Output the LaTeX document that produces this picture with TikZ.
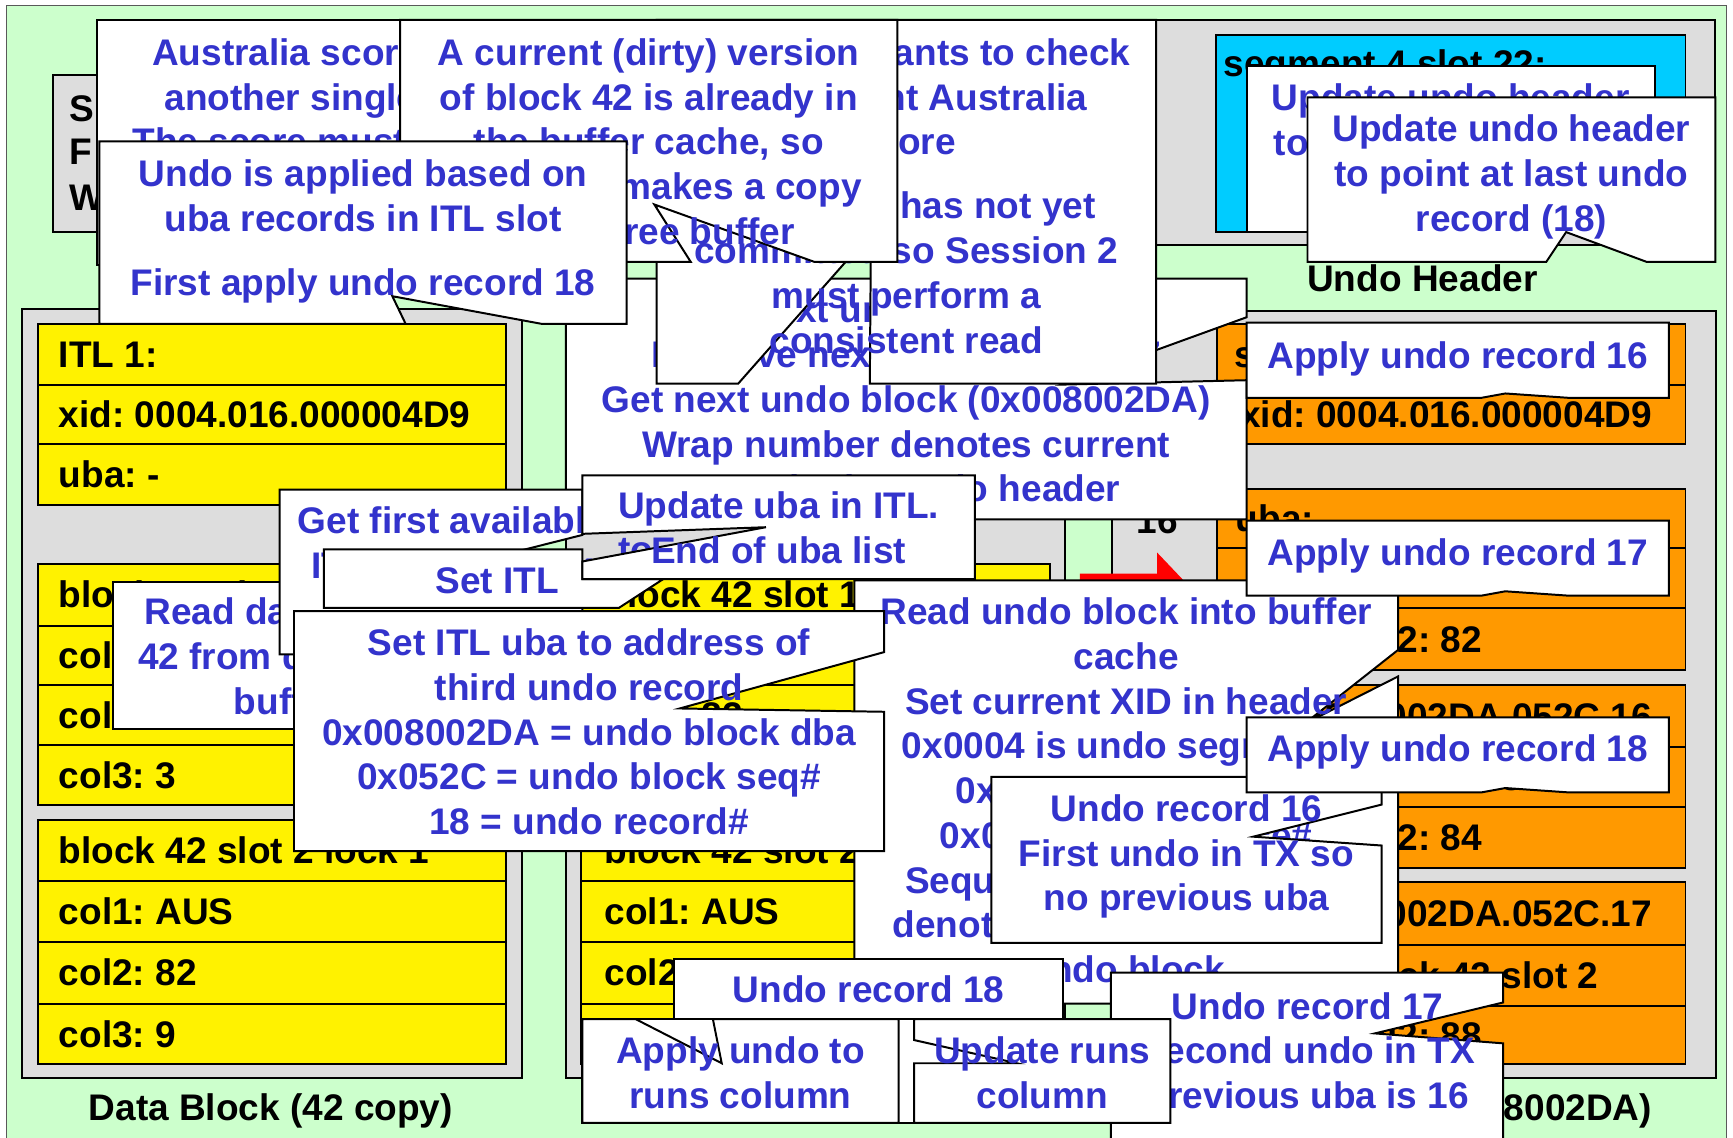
\documentclass[tikz,border=0pt]{standalone}
\usepackage{fontspec}
\setmainfont{Liberation Sans}
\definecolor{bggreen}{RGB}{204,255,204}
\definecolor{pgray}{RGB}{221,221,221}
\definecolor{ppblue}{RGB}{51,51,204}
\definecolor{porange}{RGB}{255,153,0}
\definecolor{pcyan}{RGB}{0,204,255}
\newcommand\bigbold{\fontsize{33.5}{40.5}\selectfont\bfseries\frenchspacing}
\tikzset{
  panel/.style={fill=pgray, draw=black, line width=1.8pt},
  yrow/.style={fill=yellow, draw=black, line width=1.8pt},
  orow/.style={fill=porange, draw=black, line width=1.8pt},
  callout/.style={fill=white, draw=black, line width=1.8pt, line join=miter},
  note/.style={font=\bigbold, text=ppblue, align=center, anchor=north, inner sep=0pt, execute at begin node=\strut},
  cell/.style={font=\bigbold, text=black, anchor=base west, inner sep=0pt},
  lbl/.style={font=\bigbold, text=black, anchor=base, inner sep=0pt},
}
% one table row: name, style, x1, y1, x2, y2, text x, text
\newcommand\rowcell[8]{%
  \draw[#2] (#3,#4) rectangle (#5,#6);
  \node[cell] (#1) at (#7,{(#4+#6)/2+12}) {#8};}

\begin{document}
\frenchspacing
\begin{tikzpicture}[x=1pt,y=-1pt]
\useasboundingbox (0,0) rectangle (1568,1029);
\clip (0,0) rectangle (1568,1029);
\fill[white] (0,0) rectangle (1568,1029);
\draw[fill=bggreen, draw=black!65, line width=1.3pt] (6,5) rectangle (1562,1045);

% ---------- undo header ----------
\draw[panel] (1040,18) rectangle (1552,222);
\draw[fill=pcyan, draw=black, line width=1.8pt] (1100,32) rectangle (1525,210);
\node[cell] (seghdr) at (1107,69) {segment 4 slot 22:};
\node[lbl] (uhlabel) at (1287,264) {Undo Header};

% ---------- data block copy ----------
\draw[panel] (20,280) rectangle (472,975);
\rowcell{litl}{yrow}{34}{293}{458}{348}{53}{ITL 1:}
\rowcell{lxid}{yrow}{34}{348}{458}{402}{53}{xid: 0004.016.000004D9}
\rowcell{luba}{yrow}{34}{402}{458}{457}{53}{uba: -}
\rowcell{lsa}{yrow}{34}{510}{458}{566}{53}{block 42 slot 1 lock 1}
\rowcell{lsa1}{yrow}{34}{566}{458}{620}{53}{col1: AUS}
\rowcell{lsa2}{yrow}{34}{620}{458}{674}{53}{col2: 82}
\rowcell{lsa3}{yrow}{34}{674}{458}{728}{53}{col3: 3}
\rowcell{lsb}{yrow}{34}{742}{458}{797}{53}{block 42 slot 2 lock 1}
\rowcell{lsb1}{yrow}{34}{797}{458}{852}{53}{col1: AUS}
\rowcell{lsb2}{yrow}{34}{852}{458}{908}{53}{col2: 82}
\rowcell{lsb3}{yrow}{34}{908}{458}{963}{53}{col3: 9}
\node[lbl] (dblabel) at (245,1014) {Data Block (42 copy)};

% ---------- current data block ----------
\draw[panel] (512,280) rectangle (964,975);
\rowcell{mitl}{yrow}{526}{293}{950}{348}{547}{ITL 1:}
\rowcell{mxid}{yrow}{526}{348}{950}{402}{547}{xid: 0004.016.000004D9}
\rowcell{muba}{yrow}{526}{402}{950}{457}{547}{uba: 0x008002DA.052C.18}
\rowcell{msa}{yrow}{526}{510}{950}{566}{547}{block 42 slot 1 lock 1}
\rowcell{msa1}{yrow}{526}{566}{950}{620}{547}{col1: AUS}
\rowcell{msa2}{yrow}{526}{620}{950}{674}{547}{col2: 82}
\rowcell{msa3}{yrow}{526}{674}{950}{728}{547}{col3: 3}
\rowcell{msb}{yrow}{526}{742}{950}{797}{547}{block 42 slot 2 lock 1}
\rowcell{msb1}{yrow}{526}{797}{950}{852}{547}{col1: AUS}
\rowcell{msb2}{yrow}{526}{852}{950}{908}{547}{col2: 89}
\rowcell{msb3}{yrow}{526}{908}{950}{963}{547}{col3: 9}

% ---------- undo block ----------
\draw[panel] (1006,281) rectangle (1553,975);
\rowcell{useq}{orow}{1101}{293}{1525}{348}{1117}{seq: 0x052C}
\rowcell{uxid}{orow}{1101}{348}{1525}{402}{1122}{xid: 0004.016.000004D9}
\rowcell{ua1}{orow}{1101}{442}{1525}{496}{1118}{uba:}
\rowcell{ua2}{orow}{1101}{496}{1525}{550}{1215}{block 42 slot 2}
\rowcell{ua3}{orow}{1101}{550}{1525}{606}{1216}{col2: 82}
\draw[orow] (1101,620) rectangle (1525,676);
\node[cell, anchor=base east] (ub1) at (1495,660) {uba: 0x008002DA.052C.16};
\rowcell{ub2}{orow}{1101}{676}{1525}{730}{1215}{block 42 slot 2}
\rowcell{ub3}{orow}{1101}{730}{1525}{785}{1216}{col2: 84}
\draw[orow] (1101,798) rectangle (1525,855);
\node[cell, anchor=base east] (uc1) at (1495,838) {uba: 0x008002DA.052C.17};
\rowcell{uc2}{orow}{1101}{855}{1525}{910}{1215}{block 42 slot 2}
\rowcell{uc3}{orow}{1101}{910}{1525}{963}{1216}{col2: 88}
\node[lbl] (rec16num) at (1047,483) {16};
\fill[red] (977,519) -- (1047,519) -- (1047,500) -- (1085,540) -- (1047,580) -- (1047,561) -- (977,561) -- cycle;
\node[lbl, anchor=base east] (ublabel) at (1495,1014) {Undo Block (0x008002DA)};

% ---------- session box ----------
\draw[panel] (48,68) rectangle (200,210);
\node[cell] (sesa) at (63,110) {S};
\node[cell] (sesb) at (63,149) {F};
\node[cell] (sesc) at (63,190) {W};

% ---------- callouts, back to front ----------
\draw[callout] (88,18) rectangle (448,240);
\node[note] (aus) at (268,34.65) {Australia scores\\another single.\\The score must be};

\draw[callout] (512,252) -- (1128,252) -- (1128,287) -- (960,348) -- (1128,344) -- (1128,470) -- (512,470) -- cycle;
\node[note] (nextundo) at (820,267.65) {Get next undo record (17)\\Retrieve next undo record 17\\Get next undo block (0x008002DA)\\Wrap number denotes current\\wrap in the undo header};

\draw[callout] (594,18) -- (1046,18) -- (1046,347) -- (787,347) -- (788,211) -- (668,347) -- (594,347) -- cycle;
\node[note] (session2) at (820,34.65) {Session 2 wants to check\\the current Australia\\score\\[17.5pt]Session 1 has not yet\\committed so Session 2\\must perform a\\consistent read};

\draw[callout] (362,18) -- (812,18) -- (812,237) -- (737,237) -- (592,185) -- (625,237) -- (362,237) -- cycle;
\node[note] (dirty) at (587,34.65) {A current (dirty) version\\of block 42 is already in\\the buffer cache, so\\Session 2 makes a copy\\into a free buffer};

\draw[callout] (90,128) -- (567,128) -- (567,293) -- (490,293) -- (355,268) -- (367,293) -- (90,293) -- cycle;
\node[note] (applied) at (328.5,144.65) {Undo is applied based on\\uba records in ITL slot\\[17.5pt]First apply undo record 18};

\draw[callout] (1128,60) rectangle (1497,210);
\node[note] (uhold) at (1312.5,75.65) {Update undo header\\to point at last undo\\record (17)};
\draw[callout] (1183,88) -- (1552,88) -- (1552,237) -- (1490,237) -- (1417,210) -- (1399,237) -- (1183,237) -- cycle;
\node[note] (uhnew) at (1367.5,103.65) {Update undo header\\to point at last undo\\record (18)};

\draw[callout] (102,527) rectangle (416,660);
\node[note] (readdata) at (259,540.65) {Read data block\\42 from disk into\\buffer};

\draw[callout] (253,443) -- (527,443) -- (527,484) -- (420,511) -- (527,540) -- (527,592) -- (253,592) -- cycle;
\node[note] (firstitl) at (409,458.65) {Get first available\\ITL slot in block};
\node[font=\bigbold, text=ppblue, anchor=base, inner sep=0pt] (ubato) at (575,509) {to};

\draw[callout] (293,497) -- (527,497) -- (527,524) -- (600,524) -- (560,550) -- (293,550) -- cycle;
\node[note] (setitl) at (450,508.65) {Set ITL};

\draw[callout] (527,430) -- (882,430) -- (882,524) -- (527,524) -- (527,508) -- (693,477) -- (527,483) -- cycle;
\node[note] (updateuba) at (704.5,444.65) {Update uba in ITL.\\End of uba list};

\draw[callout] (773,525) -- (1265,525) -- (1265,588) -- (1180,655) -- (1265,612) -- (1265,908) -- (773,908) -- cycle;
\node[note] (readundo) at (1019,540.65) {Read undo block into buffer\\cache\\Set current XID in header\\0x0004 is undo segment\#\\0x016 is undo slot\#\\0x04D9 is sequence\#\\Sequence number (wrap)\\denotes current version of\\undo block};

\draw[callout] (266,553) -- (800,553) -- (800,590) -- (615,641) -- (800,644) -- (800,770) -- (266,770) -- cycle;
\node[note] (setuba) at (533,568.65) {Set ITL uba to address of\\third undo record\\0x008002DA = undo block dba\\0x052C = undo block seq\#\\18 = undo record\#};

\draw[callout] (897,703) -- (1250,703) -- (1250,728) -- (1134,757) -- (1250,765) -- (1250,853) -- (897,853) -- cycle;
\node[note] (rec16) at (1073.5,718.65) {Undo record 16\\First undo in TX so\\no previous uba};

\draw[callout] (1128,292) -- (1510,292) -- (1510,360) -- (1420,360) -- (1362,356) -- (1340,360) -- (1128,360) -- cycle;
\node[note] (apply16) at (1319,304.65) {Apply undo record 16};
\draw[callout] (1128,471) -- (1510,471) -- (1510,539) -- (1420,539) -- (1362,535) -- (1340,539) -- (1128,539) -- cycle;
\node[note] (apply17) at (1319,483.15) {Apply undo record 17};
\draw[callout] (1128,649) -- (1510,649) -- (1510,717) -- (1420,717) -- (1362,713) -- (1340,717) -- (1128,717) -- cycle;
\node[note] (apply18) at (1319,660.65) {Apply undo record 18};

\draw[callout] (610,868) rectangle (962,930);
\node[note] (rec18) at (786,878.65) {Undo record 18};

\draw[callout] (527,922) rectangle (1059,1016);
\draw[callout] (527,922) -- (575,922) -- (653,962) -- (645,922) -- (813,922) -- (813,1016) -- (527,1016) -- cycle;
\node[note] (applyruns) at (670,937.65) {Apply undo to\\runs column};

\draw[callout] (1005,880) -- (1360,880) -- (1360,907) -- (1244,935) -- (1360,944) -- (1360,1045) -- (1005,1045) -- cycle;
\node[note] (rec17) at (1183,897.65) {Undo record 17\\Second undo in TX\\previous uba is 16};

\draw[callout] (827,922) -- (1059,922) -- (1059,1016) -- (827,1016) -- (827,962) -- (920,962) -- (827,941) -- cycle;
\node[note] (updateruns) at (943,937.65) {Update runs\\column};
\end{tikzpicture}
\end{document}
